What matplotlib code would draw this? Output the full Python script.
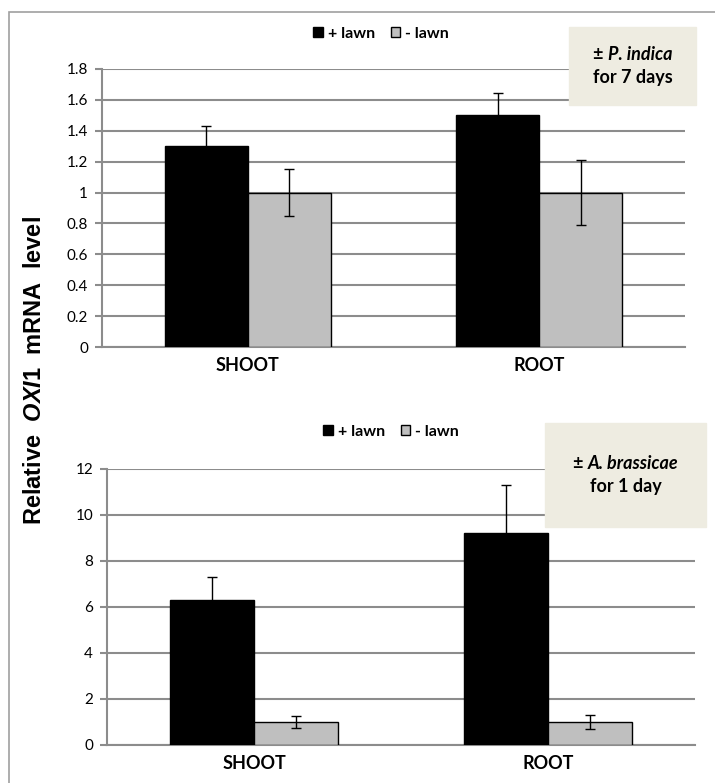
import numpy as np
import matplotlib
matplotlib.use('Agg')
import matplotlib.pyplot as plt
from matplotlib.patches import Rectangle
from matplotlib.offsetbox import TextArea, HPacker, VPacker, AnchoredOffsetbox

# data
categories = ['SHOOT', 'ROOT']
series = ['+ lawn', '- lawn']

top_plus = [1.3, 1.5]
top_plus_err = [0.13, 0.145]
top_minus = [1.0, 1.0]
top_minus_err = [0.15, 0.21]
top_ticks = [0, 0.2, 0.4, 0.6, 0.8, 1, 1.2, 1.4, 1.6, 1.8]
top_ticklabels = ['0', '0.2', '0.4', '0.6', '0.8', '1', '1.2', '1.4', '1.6', '1.8']

bot_plus = [6.3, 9.2]
bot_plus_err = [1.0, 2.1]
bot_minus = [1.0, 1.0]
bot_minus_err = [0.25, 0.3]
bot_ticks = [0, 2, 4, 6, 8, 10, 12]

plt.rcParams['font.family'] = ['Lato', 'DejaVu Sans']
plt.rcParams['mathtext.fontset'] = 'custom'
plt.rcParams['mathtext.it'] = 'Liberation Sans:italic:bold'
plt.rcParams['mathtext.rm'] = 'Liberation Sans:bold'

W, H = 715, 783
gridc = '#8c8c8c'
fig = plt.figure(figsize=(W/100, H/100), dpi=100)

# outer frame
fig.patches.append(Rectangle((9/W, -0.2), 1.2, 1.2 - 12/H,
                             transform=fig.transFigure, fill=False,
                             edgecolor='#a0a0a0', lw=1.2))


def draw(ax, plus, plus_err, minus, minus_err, ticks, ticklabels, ymax, legx):
    x = np.arange(len(categories))
    w = 0.285
    ax.bar(x - w/2, plus, w, color='black', edgecolor='black', lw=1, zorder=3, label=series[0])
    ax.bar(x + w/2, minus, w, color='#bfbfbf', edgecolor='black', lw=1, zorder=3, label=series[1])
    ax.errorbar(x - w/2, plus, yerr=plus_err, fmt='none', ecolor='black', elinewidth=1,
                capsize=3.5, capthick=1, zorder=4)
    ax.errorbar(x + w/2, minus, yerr=minus_err, fmt='none', ecolor='black', elinewidth=1,
                capsize=3.5, capthick=1, zorder=4)
    ax.set_xlim(-0.5, 1.5)
    ax.set_ylim(0, ymax)
    ax.set_yticks(ticks)
    ax.set_yticklabels(ticklabels)
    ax.yaxis.grid(True, color=gridc, lw=1.5, zorder=0)
    ax.set_axisbelow(True)
    for s in ['top', 'right']:
        ax.spines[s].set_visible(False)
    for s in ['left', 'bottom']:
        ax.spines[s].set_color(gridc)
        ax.spines[s].set_linewidth(1.5)
    ax.tick_params(axis='y', length=5, color=gridc, width=1.5, labelsize=11, pad=5)
    ax.set_xticks(x)
    ax.set_xticklabels(categories, fontsize=13, fontweight='bold')
    ax.tick_params(axis='x', length=0, pad=7)
    ax.legend(loc='center', bbox_to_anchor=legx, bbox_transform=fig.transFigure, ncol=2,
              frameon=False, prop={'size': 11.5, 'weight': 'bold'},
              handlelength=0.6, handleheight=0.6, handletextpad=0.3, columnspacing=1.0)


ax1 = fig.add_axes([102/W, 1 - 347/H, 583/W, 278/H])
draw(ax1, top_plus, top_plus_err, top_minus, top_minus_err, top_ticks, top_ticklabels, 1.8,
     (381/W, 1 - 34/H))

ax2 = fig.add_axes([107/W, 1 - 745/H, 588/W, 276/H])
draw(ax2, bot_plus, bot_plus_err, bot_minus, bot_minus_err, bot_ticks,
     [str(t) for t in bot_ticks], 12, (391/W, 1 - 432/H))


def note(x0, y0, x1, y1, species, days):
    fig.patches.append(Rectangle((x0/W, 1 - y1/H), (x1 - x0)/W, (y1 - y0)/H,
                                 transform=fig.transFigure, color='#eeece1', zorder=5))
    p = {'size': 13, 'weight': 'bold'}
    line1 = HPacker(children=[TextArea('± ', textprops=p),
                              TextArea(species, textprops=dict(p, style='italic'))],
                    pad=0, sep=0, align='baseline')
    line2 = TextArea(days, textprops=p)
    box = VPacker(children=[line1, line2], pad=0, sep=5, align='center')
    ab = AnchoredOffsetbox(loc='center', child=box, frameon=False, pad=0, borderpad=0,
                           bbox_to_anchor=((x0 + x1)/2/W, 1 - (y0 + y1)/2/H),
                           bbox_transform=fig.transFigure)
    ab.set_zorder(6)
    fig.add_artist(ab)


note(569, 27, 696, 105, 'P. indica', 'for 7 days')
note(545, 423, 706, 527, 'A. brassicae', 'for 1 day')

fig.text(35/W, 1 - 371/H, r'Relative  $\it{OXI1}$  mRNA  level', rotation=90,
         ha='center', va='center', fontsize=17, fontweight='bold',
         family=['Liberation Sans', 'DejaVu Sans'])

fig.savefig('out.png', dpi=100)
